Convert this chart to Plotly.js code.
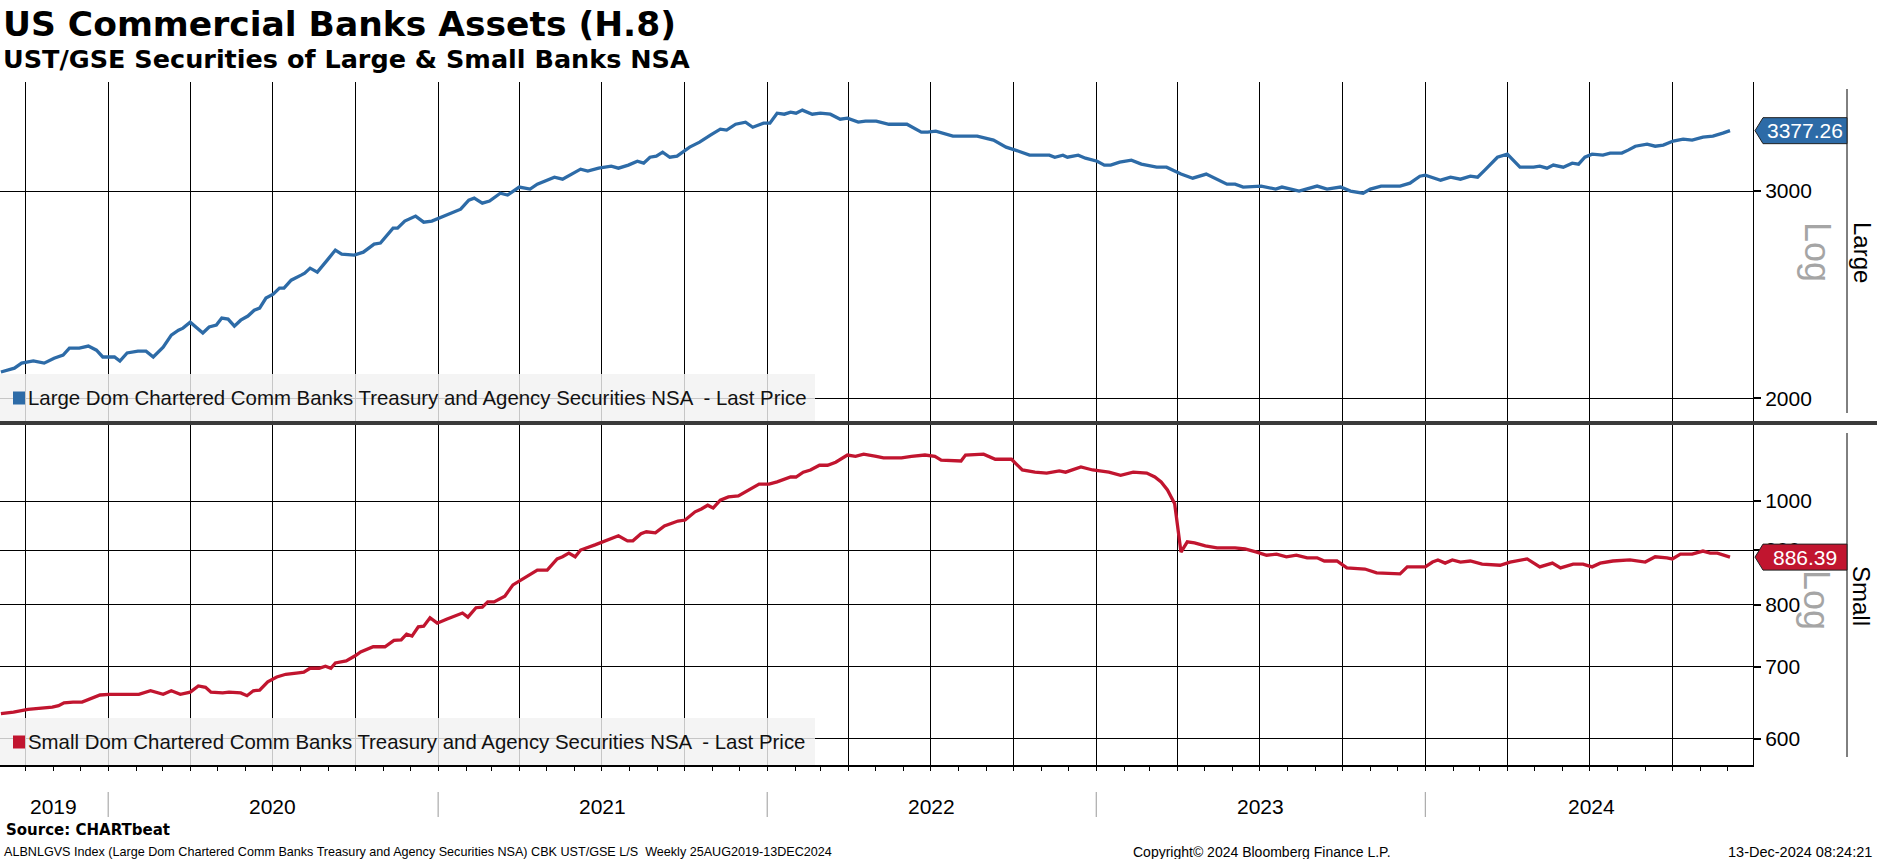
<!DOCTYPE html>
<html><head><meta charset="utf-8">
<script src="https://cdn.plot.ly/plotly-3.0.1.min.js"></script>
<style>html,body{margin:0;padding:0;background:#fff}#chart{width:1877px;height:859px}</style>
</head><body><div id="chart"></div>
<script>
// ---------------- DATA ----------------
const largeDates = [
'2019-09-04','2019-09-19','2019-09-27','2019-10-10','2019-10-22','2019-11-02','2019-11-12','2019-11-19','2019-11-30','2019-12-10','2019-12-19','2019-12-26',
'2020-01-08','2020-01-14','2020-01-22','2020-02-03','2020-02-12','2020-02-20','2020-03-02','2020-03-11','2020-03-19','2020-03-24','2020-04-01','2020-04-15','2020-04-22','2020-04-30','2020-05-06','2020-05-13','2020-05-20','2020-05-27','2020-06-04','2020-06-11','2020-06-17','2020-06-24','2020-07-02','2020-07-09','2020-07-14','2020-07-22','2020-08-02','2020-08-06','2020-08-12','2020-08-20','2020-08-31','2020-09-09','2020-09-16','2020-09-30','2020-10-10','2020-10-22','2020-10-29','2020-11-12','2020-11-17','2020-11-25','2020-12-07','2020-12-16','2020-12-25',
'2021-01-04','2021-01-14','2021-01-26','2021-02-04','2021-02-10','2021-02-19','2021-02-27','2021-03-11','2021-03-19','2021-04-01','2021-04-13','2021-04-21','2021-05-10','2021-05-19','2021-06-08','2021-06-16','2021-06-28','2021-07-12','2021-07-20','2021-07-31','2021-08-10','2021-08-17','2021-08-24','2021-08-31','2021-09-07','2021-09-15','2021-09-23','2021-10-07','2021-10-18','2021-10-30','2021-11-10','2021-11-17','2021-11-27','2021-12-08','2021-12-16','2021-12-28',
'2022-01-04','2022-01-12','2022-01-20','2022-01-27','2022-02-02','2022-02-09','2022-02-20','2022-03-01','2022-03-12','2022-03-23','2022-03-31','2022-04-12','2022-04-20','2022-05-02','2022-05-16','2022-06-05','2022-06-11','2022-06-21','2022-06-28','2022-07-07','2022-07-26','2022-08-09','2022-08-22','2022-09-09','2022-09-23','2022-10-07','2022-10-19','2022-11-10','2022-11-16','2022-11-25','2022-11-30','2022-12-12','2022-12-20',
'2023-01-02','2023-01-10','2023-01-17','2023-01-27','2023-02-09','2023-02-20','2023-03-09','2023-03-20','2023-04-05','2023-04-18','2023-05-03','2023-05-13','2023-05-26','2023-06-04','2023-06-13','2023-07-03','2023-07-19','2023-07-26','2023-08-14','2023-09-03','2023-09-14','2023-09-29','2023-10-10','2023-10-24','2023-11-01','2023-11-13','2023-12-04','2023-12-15','2023-12-26',
'2024-01-01','2024-01-18','2024-01-29','2024-02-09','2024-02-20','2024-02-28','2024-03-07','2024-03-21','2024-04-01','2024-04-15','2024-04-30','2024-05-07','2024-05-15','2024-05-22','2024-06-02','2024-06-12','2024-06-19','2024-06-26','2024-07-04','2024-07-16','2024-07-24','2024-08-06','2024-08-13','2024-08-21','2024-09-03','2024-09-12','2024-09-21','2024-10-02','2024-10-13','2024-10-23','2024-11-04','2024-11-15','2024-11-26','2024-12-04'
];
const largeValues = [
2105,2121,2142,2151,2142,2163,2176,2206,2206,2215,2197,2168,
2168,2151,2185,2193,2193,2168,2210,2263,2285,2294,2321,2272,2299,2308,2340,2335,2303,2330,2349,2376,2386,2433,2452,2481,2481,2520,2545,2555,2580,2560,2621,2673,2652,2647,2662,2704,2710,2790,2790,2829,2857,2823,2829,
2851,2873,2896,2948,2959,2930,2942,2988,2977,3024,3012,3041,3083,3071,3132,3120,3138,3150,3138,3157,3181,3169,3206,3213,3238,3206,3213,3270,3302,3348,3387,3381,3420,3434,3400,3427,
3427,3495,3488,3502,3495,3516,3488,3495,3488,3454,3461,3434,3441,3441,3420,3420,3400,3367,3367,3374,3341,3341,3341,3315,3270,3244,3219,3219,3206,3219,3206,3219,3200,
3181,3157,3157,3175,3188,3163,3144,3144,3102,3077,3102,3077,3041,3041,3024,3030,3012,3024,3000,3030,3012,3024,3000,2988,3012,3030,3030,3047,3089,
3095,3065,3083,3071,3089,3083,3126,3206,3225,3144,3144,3150,3138,3157,3144,3169,3163,3206,3225,3219,3232,3232,3251,3276,3289,3276,3283,3309,3322,3315,3335,3341,3361,3377.26
];
const smallDates = [
'2019-09-04','2019-09-18','2019-10-04','2019-10-24','2019-10-31','2019-11-07','2019-11-13','2019-11-23','2019-12-03','2019-12-23',
'2020-01-02','2020-02-04','2020-02-17','2020-03-02','2020-03-11','2020-03-21','2020-04-01','2020-04-10','2020-04-18','2020-04-24','2020-05-07','2020-05-14','2020-05-27','2020-06-03','2020-06-10','2020-06-17','2020-06-26','2020-07-06','2020-07-16','2020-07-30','2020-08-05','2020-08-12','2020-08-22','2020-08-29','2020-09-04','2020-09-09','2020-09-21','2020-10-01','2020-10-07','2020-10-21','2020-11-03','2020-11-13','2020-11-21','2020-11-27','2020-12-03','2020-12-10','2020-12-16','2020-12-23','2020-12-31',
'2021-01-11','2021-01-24','2021-01-28','2021-02-03','2021-02-12','2021-02-19','2021-02-25','2021-03-04','2021-03-16','2021-03-25','2021-04-05','2021-04-21','2021-05-02','2021-05-13','2021-05-19','2021-05-26','2021-06-02','2021-06-08','2021-06-24','2021-06-30','2021-07-20','2021-07-30','2021-08-05','2021-08-14','2021-08-20','2021-08-30','2021-09-09','2021-09-24','2021-10-02','2021-10-13','2021-10-20','2021-10-27','2021-11-02','2021-11-10','2021-11-19','2021-11-30','2021-12-12','2021-12-23',
'2022-01-03','2022-01-12','2022-01-27','2022-02-02','2022-02-10','2022-02-18','2022-02-28','2022-03-09','2022-03-18','2022-03-31','2022-04-09','2022-04-18','2022-05-02','2022-05-10','2022-05-30','2022-06-10','2022-06-25','2022-07-06','2022-07-13','2022-07-26','2022-08-04','2022-08-09','2022-08-29','2022-09-11','2022-09-29','2022-10-11','2022-10-25','2022-11-07','2022-11-21','2022-11-28','2022-12-15','2022-12-28',
'2023-01-15','2023-01-28','2023-02-11','2023-02-26','2023-03-07','2023-03-14','2023-03-21','2023-03-29','2023-04-05','2023-04-12','2023-04-20','2023-05-02','2023-05-15','2023-06-04','2023-06-15','2023-06-28','2023-07-09','2023-07-20','2023-07-31','2023-08-11','2023-08-23','2023-09-03','2023-09-11','2023-09-25','2023-10-06','2023-10-26','2023-11-08','2023-12-04','2023-12-12',
'2024-01-01','2024-01-09','2024-01-15','2024-01-23','2024-01-31','2024-02-09','2024-02-20','2024-03-04','2024-03-24','2024-04-04','2024-04-23','2024-05-07','2024-05-21','2024-05-30','2024-06-13','2024-06-24','2024-07-04','2024-07-13','2024-07-27','2024-08-15','2024-09-01','2024-09-12','2024-09-25','2024-10-01','2024-10-10','2024-10-23','2024-11-04','2024-11-12','2024-11-20','2024-12-04'
];
const smallValues = [
633,635,639,641,642,644,648,649,649,659,
660,660,665,660,665,660,663,672,670,663,662,663,662,658,665,666,678,685,689,691,692,698,698,701,698,706,709,717,723,731,731,741,742,751,748,763,764,778,769,
776,784,786,779,795,796,805,805,815,835,846,862,862,883,887,894,887,900,910,914,928,918,918,932,936,934,948,958,960,977,983,991,985,1002,1009,1011,1024,1037,
1037,1042,1053,1053,1064,1069,1080,1080,1087,1104,1101,1106,1101,1097,1097,1101,1104,1101,1092,1090,1090,1104,1106,1094,1094,1069,1064,1062,1067,1064,1076,1069,
1064,1057,1064,1062,1053,1042,1024,994,896,916,914,908,904,904,902,896,890,892,887,890,885,885,879,879,866,864,857,855,868,
868,877,881,875,881,877,879,873,871,877,883,868,875,866,873,873,868,875,879,881,877,887,885,883,892,892,898,894,894,886.39
];
const largeTickVals = [2000, 3000];
const largeTickText = ['2000', '3000'];
const smallTickVals = [600, 700, 800, 900, 1000];
const smallTickText = ['600', '700', '800', '900', '1000'];
const yearLabels = ['2019', '2020', '2021', '2022', '2023', '2024'];
const yearLabelDates = ['2019-11-01', '2020-07-01', '2021-07-02', '2022-07-02', '2023-07-02', '2024-07-03'];
const yearStarts = ['2020-01-01', '2021-01-01', '2022-01-01', '2023-01-01', '2024-01-01'];
const largeLast = 3377.26, smallLast = 886.39;
const largeName = 'Large Dom Chartered Comm Banks Treasury and Agency Securities NSA  - Last Price';
const smallName = 'Small Dom Chartered Comm Banks Treasury and Agency Securities NSA  - Last Price';

// ---------------- LAYOUT ----------------
const W = 1877, H = 859, PL = 0, PR = 1753, PT = 82, PB = 765;
const px = x => (x - PL) / (PR - PL);
const py = y => (PB - y) / (PB - PT);
const BLUE = '#2d6ba7', RED = '#c1152f';
const FONT = 'Liberation Sans, Arial, sans-serif';
const BOLD = 'DejaVu Sans, Verdana, sans-serif';
const topDomain = [py(421), 1], botDomain = [0, py(425)];
const topRange = [Math.log10(1912.5), Math.log10(3715)];
const botRange = [Math.log10(566.9), Math.log10(1177.6)];
function valToPy(v, dom, rng) {
  const f = (Math.log10(v) - rng[0]) / (rng[1] - rng[0]);
  const p = dom[0] + f * (dom[1] - dom[0]);
  return PB - p * (PB - PT);
}

const traces = [
  {x: largeDates, y: largeValues, xaxis: 'x', yaxis: 'y', mode: 'lines', line: {color: BLUE, width: 3.3}, hoverinfo: 'skip', showlegend: false},
  {x: smallDates, y: smallValues, xaxis: 'x', yaxis: 'y2', mode: 'lines', line: {color: RED, width: 3.3}, hoverinfo: 'skip', showlegend: false}
];

const shapes = [];
const annotations = [];

// legend boxes
function legendBox(yTop, yBot, color, name) {
  const cy = (yTop + yBot) / 2;
  shapes.push({type: 'rect', xref: 'paper', yref: 'paper', x0: px(0), x1: px(815), y0: py(yBot), y1: py(yTop),
    fillcolor: 'rgba(241,241,241,0.82)', line: {width: 0}, layer: 'above'});
  shapes.push({type: 'rect', xref: 'paper', yref: 'paper', x0: px(13), x1: px(25), y0: py(cy + 7), y1: py(cy - 6),
    fillcolor: color, line: {width: 0}, layer: 'above'});
  annotations.push({xref: 'paper', yref: 'paper', x: px(26), y: py(cy), xanchor: 'left', yanchor: 'middle', showarrow: false,
    text: name, font: {family: FONT, size: 20.4, color: '#111'}});
}
legendBox(374, 421, BLUE, largeName);
legendBox(718, 765, RED, smallName);

// separator
shapes.push({type: 'line', xref: 'paper', yref: 'paper', x0: px(0), x1: px(W), y0: py(423), y1: py(423), line: {color: '#3a3a3a', width: 4}, layer: 'above'});
// right frame lines
shapes.push({type: 'line', xref: 'paper', yref: 'paper', x0: px(1847), x1: px(1847), y0: py(89), y1: py(413), line: {color: '#000', width: 1}});
shapes.push({type: 'line', xref: 'paper', yref: 'paper', x0: px(1847), x1: px(1847), y0: py(433), y1: py(757), line: {color: '#000', width: 1}});

// year separators and labels
yearStarts.forEach(d => shapes.push({type: 'line', xref: 'x', yref: 'paper', x0: d, x1: d, y0: py(792), y1: py(817), line: {color: '#9a9a9a', width: 1}}));
yearLabels.forEach((t, i) => annotations.push({xref: 'x', yref: 'paper', x: yearLabelDates[i], y: py(806), xanchor: 'center', yanchor: 'middle',
  showarrow: false, text: t, font: {family: FONT, size: 21, color: '#000'}}));

// side labels
annotations.push({xref: 'paper', yref: 'paper', x: px(1817), y: py(252), text: 'Log', textangle: 90, showarrow: false, xanchor: 'center', yanchor: 'middle', font: {family: FONT, size: 36, color: '#a5a5a5'}});
annotations.push({xref: 'paper', yref: 'paper', x: px(1817), y: py(600), text: 'Log', textangle: 90, showarrow: false, xanchor: 'center', yanchor: 'middle', font: {family: FONT, size: 36, color: '#a5a5a5'}});
annotations.push({xref: 'paper', yref: 'paper', x: px(1862), y: py(252), text: 'Large', textangle: 90, showarrow: false, xanchor: 'center', yanchor: 'middle', font: {family: FONT, size: 24, color: '#000'}});
annotations.push({xref: 'paper', yref: 'paper', x: px(1862), y: py(596), text: 'Small', textangle: 90, showarrow: false, xanchor: 'center', yanchor: 'middle', font: {family: FONT, size: 24, color: '#000'}});

// last value tags
function lastTag(v, dom, rng, color) {
  const cy = valToPy(v, dom, rng);
  const pts = [[1755, cy], [1763, cy - 13], [1847, cy - 13], [1847, cy + 13], [1763, cy + 13]];
  const path = 'M' + pts.map(p => px(p[0]) + ',' + py(p[1])).join(' L') + ' Z';
  shapes.push({type: 'path', xref: 'paper', yref: 'paper', path: path, fillcolor: color, line: {color: '#222', width: 1}, layer: 'above'});
  annotations.push({xref: 'paper', yref: 'paper', x: px(1805), y: py(cy), xanchor: 'center', yanchor: 'middle', showarrow: false,
    text: String(v), font: {family: FONT, size: 21, color: '#fff'}});
}
lastTag(largeLast, topDomain, topRange, BLUE);
lastTag(smallLast, botDomain, botRange, RED);

// titles & footer
annotations.push({xref: 'paper', yref: 'paper', x: px(1), y: py(24), xanchor: 'left', yanchor: 'middle', showarrow: false,
  text: '<b>US Commercial Banks Assets (H.8)</b>', font: {family: BOLD, size: 34.5, color: '#000'}});
annotations.push({xref: 'paper', yref: 'paper', x: px(1), y: py(59), xanchor: 'left', yanchor: 'middle', showarrow: false,
  text: '<b>UST/GSE Securities of Large &amp; Small Banks NSA</b>', font: {family: BOLD, size: 25.5, color: '#000'}});
annotations.push({xref: 'paper', yref: 'paper', x: px(4), y: py(830), xanchor: 'left', yanchor: 'middle', showarrow: false,
  text: '<b>Source: CHARTbeat</b>', font: {family: BOLD, size: 15, color: '#000'}});
annotations.push({xref: 'paper', yref: 'paper', x: px(2), y: py(852), xanchor: 'left', yanchor: 'middle', showarrow: false,
  text: 'ALBNLGVS Index (Large Dom Chartered Comm Banks Treasury and Agency Securities NSA) CBK UST/GSE L/S  Weekly 25AUG2019-13DEC2024', font: {family: FONT, size: 12.6, color: '#000'}});
annotations.push({xref: 'paper', yref: 'paper', x: px(1262), y: py(852), xanchor: 'center', yanchor: 'middle', showarrow: false,
  text: 'Copyright© 2024 Bloomberg Finance L.P.', font: {family: FONT, size: 14, color: '#000'}});
annotations.push({xref: 'paper', yref: 'paper', x: px(1874), y: py(852), xanchor: 'right', yanchor: 'middle', showarrow: false,
  text: '13-Dec-2024 08:24:21', font: {family: FONT, size: 14.5, color: '#000'}});

const yCommon = {type: 'log', side: 'right', anchor: 'x', showgrid: true, gridcolor: '#000', gridwidth: 1,
  ticks: 'outside', ticklen: 7, tickwidth: 2, tickcolor: '#000', showline: true, linecolor: '#000', linewidth: 1,
  tickfont: {family: FONT, size: 21, color: '#000'}, zeroline: false, fixedrange: true};

const layout = {
  width: W, height: H, autosize: false,
  margin: {l: PL, r: W - PR, t: PT, b: H - PB, pad: 0},
  paper_bgcolor: '#fff', plot_bgcolor: '#fff',
  showlegend: false,
  xaxis: {type: 'date', range: ['2019-09-03', '2024-12-29 12:00'], anchor: 'y2', tick0: '2019-10-01', dtick: 'M3',
    showgrid: true, gridcolor: '#000', gridwidth: 1, showticklabels: false, ticks: 'outside', ticklen: 4, tickcolor: '#000',
    showline: true, linecolor: '#000', linewidth: 2, zeroline: false, fixedrange: true,
    minor: {dtick: 'M1', tick0: '2019-10-01', ticks: 'outside', ticklen: 4, tickcolor: '#000', showgrid: false}},
  yaxis: Object.assign({}, yCommon, {domain: topDomain, range: topRange, tickvals: largeTickVals, ticktext: largeTickText}),
  yaxis2: Object.assign({}, yCommon, {domain: botDomain, range: botRange, tickvals: smallTickVals, ticktext: smallTickText}),
  shapes: shapes,
  annotations: annotations
};

Plotly.newPlot('chart', traces, layout, {displayModeBar: false, staticPlot: true});
</script>
</body></html>
